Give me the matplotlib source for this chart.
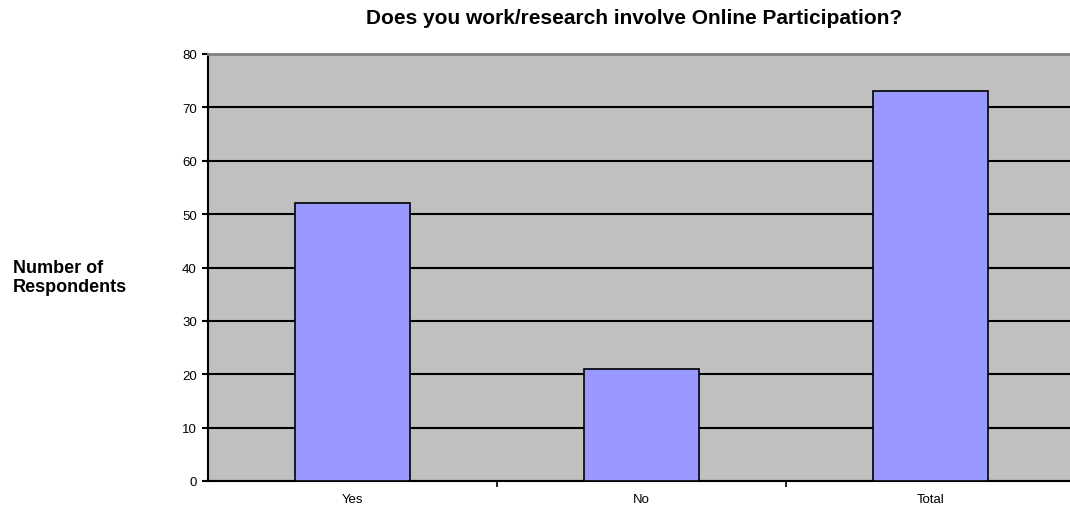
import matplotlib
matplotlib.use("Agg")
import matplotlib.pyplot as plt

plt.rcParams['font.family'] = ['Liberation Sans', 'DejaVu Sans']

categories = ['Yes', 'No', 'Total']
respondents = [52, 21, 73]
y_ticks = [0, 10, 20, 30, 40, 50, 60, 70, 80]

fig = plt.figure(figsize=(10.7, 5.1), dpi=100)
ax = fig.add_axes([208 / 1070, 28 / 510, 867 / 1070, 427 / 510])
ax.set_facecolor('#C0C0C0')

x = list(range(len(categories)))
ax.bar(x, respondents, width=0.4, color='#9999FF', edgecolor='black',
       linewidth=1.2, zorder=3)

ax.set_xlim(-0.5, len(categories) - 0.5)
ax.set_ylim(0, 80)
ax.set_yticks(y_ticks)
ax.yaxis.grid(True, color='black', linewidth=1.5, zorder=1)
ax.set_axisbelow(True)

# category labels centred, tick marks between categories
ax.set_xticks(x)
ax.set_xticklabels(categories, fontsize=9.5)
ax.tick_params(axis='x', which='major', length=0, pad=9)
ax.set_xticks([0.5, 1.5], minor=True)
ax.tick_params(axis='x', which='minor', length=4, width=1.2, direction='out')
ax.tick_params(axis='y', length=4, width=1.5, labelsize=9.5, pad=4)

for side in ['left', 'bottom']:
    ax.spines[side].set_color('black')
    ax.spines[side].set_linewidth(1.5)
ax.spines['top'].set_color('#808080')
ax.spines['top'].set_linewidth(2)
ax.spines['right'].set_visible(False)

fig.text(634 / 1070, 1 - 18 / 510, 'Does you work/research involve Online Participation?',
         ha='center', va='center', fontsize=15, fontweight='bold')
fig.text(13 / 1070, 1 - 278 / 510, 'Number of\nRespondents',
         ha='left', va='center', fontsize=13, fontweight='bold', linespacing=1.1)

fig.savefig('out.png', dpi=100)
